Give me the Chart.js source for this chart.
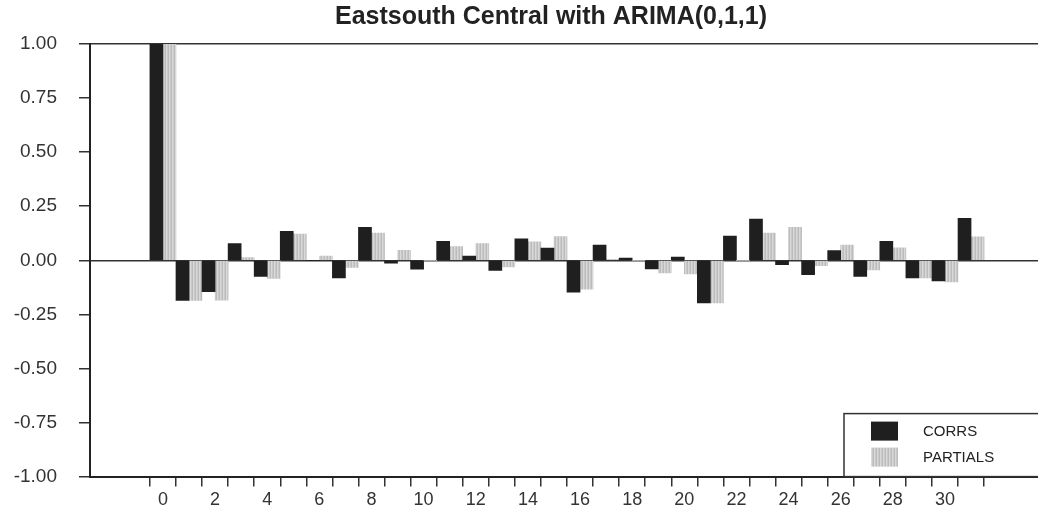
<!DOCTYPE html>
<html>
<head>
<meta charset="utf-8">
<script src="https://cdn.jsdelivr.net/npm/chart.js@4/dist/chart.umd.min.js"></script>
<style>
  html, body { margin: 0; padding: 0; background: #fff; }
  #wrap { width: 1038px; height: 510px; position: relative; }
</style>
</head>
<body>
<div id="wrap"><canvas id="acfCanvas"></canvas></div>
<script>
// ACF / PACF, Eastsouth Central, residuals of ARIMA(0,1,1)
const lags = [0, 1, 2, 3, 4, 5, 6, 7, 8, 9, 10, 11, 12, 13, 14, 15,
              16, 17, 18, 19, 20, 21, 22, 23, 24, 25, 26, 27, 28, 29, 30, 31];
const corrs = [1.00, -0.185, -0.145, 0.077, -0.074, 0.134, 0.00, -0.081,
               0.153, -0.013, -0.041, 0.088, 0.02, -0.047, 0.099, 0.057,
               -0.147, 0.07, 0.01, -0.04, 0.015, -0.197, 0.112, 0.19,
               -0.02, -0.066, 0.045, -0.074, 0.088, -0.081, -0.095, 0.194];
const partials = [1.00, -0.185, -0.184, 0.012, -0.084, 0.121, 0.02, -0.033,
                  0.126, 0.046, 0.00, 0.063, 0.077, -0.031, 0.085, 0.11,
                  -0.134, 0.004, 0.00, -0.058, -0.063, -0.197, 0.00, 0.126,
                  0.152, -0.025, 0.07, -0.045, 0.058, -0.081, -0.10, 0.108];
const yTicks = [-1, -0.75, -0.5, -0.25, 0, 0.25, 0.5, 0.75, 1];

// striped grey fill for the partials
function stripes() {
    const c = document.createElement("canvas");
    c.width = 3; c.height = 4;
    const g = c.getContext("2d");
    g.fillStyle = "#bcbcbc"; g.fillRect(0, 0, 1, 4);
    g.fillStyle = "#d9d9d9"; g.fillRect(1, 0, 1, 4);
    g.fillStyle = "#c9c9c9"; g.fillRect(2, 0, 1, 4);
    return g.createPattern(c, "repeat");
}
const greyFill = stripes();

// title sits a bit right of the canvas centre in the original
const shiftTitle = {
    id: "shiftTitle",
    afterLayout(chart) {
        if (chart.titleBlock) chart.titleBlock.left = 64;
    }
};

// boxed legend in the lower right corner
const boxLegend = {
    id: "boxLegend",
    afterDatasetsDraw(chart) {
        const ctx = chart.ctx;
        const a = chart.chartArea;
        const left = a.right - 194, top = a.bottom - 63;
        ctx.save();
        ctx.fillStyle = "#fff";
        ctx.fillRect(left, top, 200, 63);
        ctx.strokeStyle = "#333";
        ctx.lineWidth = 1.5;
        ctx.strokeRect(left, top, 200, 63);
        ctx.font = "15px Arial, 'Liberation Sans', sans-serif";
        ctx.textBaseline = "middle";
        chart.data.datasets.forEach((ds, i) => {
            const y = top + 8 + i * 26;
            ctx.fillStyle = ds.backgroundColor;
            ctx.fillRect(left + 27, y, 27, 19);
            ctx.fillStyle = "#222";
            ctx.fillText(ds.label, left + 79, y + 10);
        });
        ctx.restore();
    }
};

new Chart(document.getElementById("acfCanvas"), {
    type: "bar",
    data: {
        datasets: [
            {
                label: "CORRS",
                data: lags.map((l, i) => ({ x: l, y: corrs[i] })),
                backgroundColor: "#1f1f1f",
            },
            {
                label: "PARTIALS",
                data: lags.map((l, i) => ({ x: l, y: partials[i] })),
                backgroundColor: greyFill,
            },
        ],
    },
    options: {
        responsive: true,
        maintainAspectRatio: false,
        animation: false,
        layout: { padding: 0 },
        datasets: { bar: { categoryPercentage: 1, barPercentage: 1 } },
        plugins: {
            legend: { display: false },
            tooltip: { enabled: false },
            title: {
                display: true,
                text: "Eastsouth Central with ARIMA(0,1,1)",
                color: "#222",
                font: { family: "Arial, 'Liberation Sans', sans-serif", size: 25, weight: "bold" },
                padding: { top: 2, bottom: 12 },
            },
        },
        scales: {
            x: {
                type: "linear",
                min: -2.23,
                max: 33,
                afterBuildTicks: (s) => { s.ticks = lags.map(v => ({ value: v })); },
                afterFit: (s) => { s.height = 33; },
                ticks: {
                    autoSkip: false,
                    maxRotation: 0,
                    padding: 3,
                    color: "#333",
                    font: { family: "Arial, 'Liberation Sans', sans-serif", size: 18 },
                    callback: (v) => (v % 2 === 0 && v <= 30 ? String(v) : ""),
                },
                grid: { drawOnChartArea: false, tickLength: 10, color: "#333", lineWidth: 1.5 },
                border: { color: "#222", width: 2 },
            },
            y: {
                min: -1,
                max: 1,
                afterBuildTicks: (s) => { s.ticks = yTicks.map(v => ({ value: v })); },
                afterFit: (s) => { s.width = 90; },
                ticks: {
                    padding: 22,
                    color: "#333",
                    font: { family: "Arial, 'Liberation Sans', sans-serif", size: 19 },
                    callback: (v) => v.toFixed(2),
                },
                grid: {
                    tickLength: 11,
                    tickColor: "#333",
                    lineWidth: 1.5,
                    color: (c) => (c.tick && (c.tick.value === 0 || c.tick.value === 1) ? "#333" : "rgba(0,0,0,0)"),
                },
                border: { color: "#222", width: 2 },
            },
        },
    },
    plugins: [shiftTitle, boxLegend],
});
</script>
</body>
</html>
